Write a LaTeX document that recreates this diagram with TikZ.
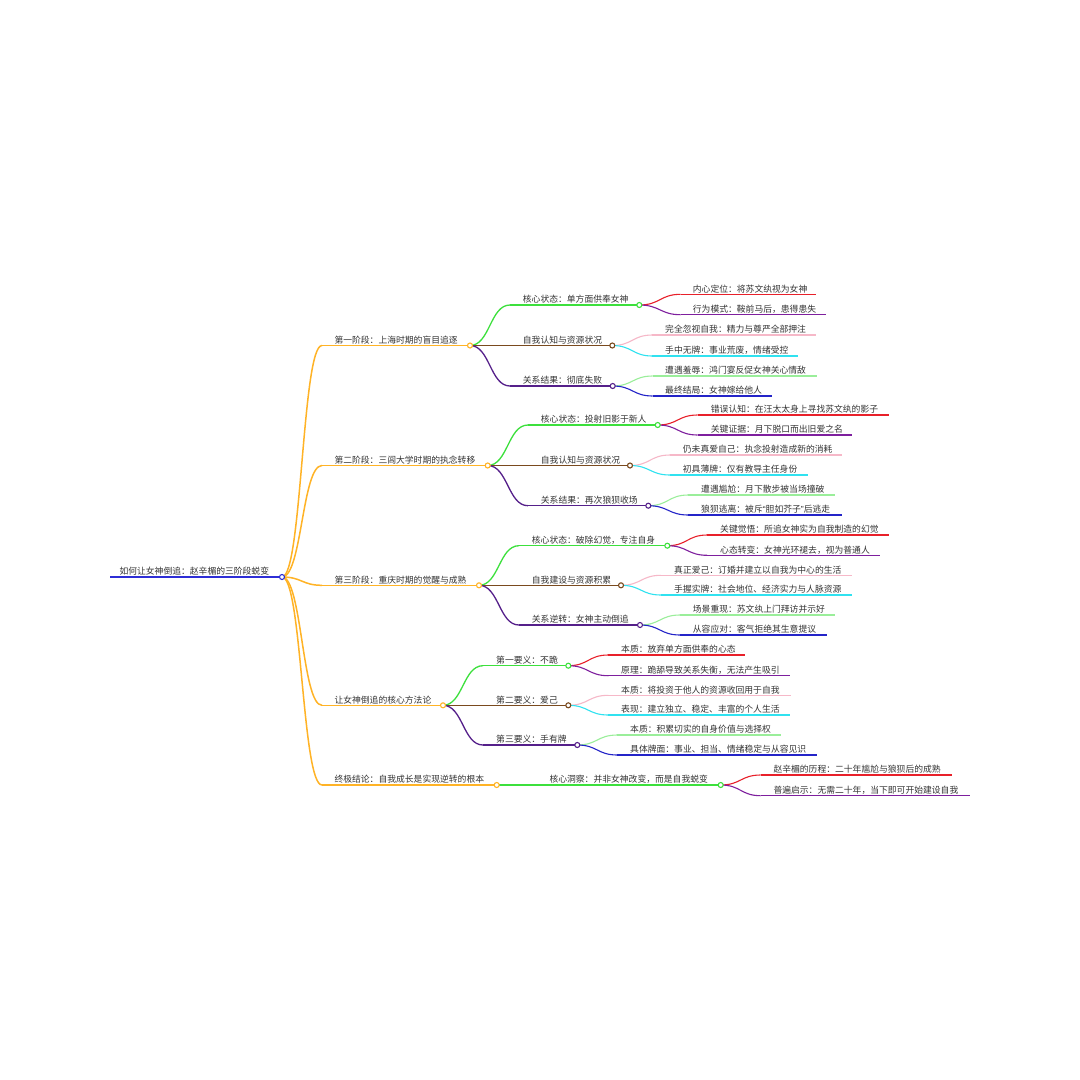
\documentclass[tikz,border=0pt]{standalone}
\usepackage{fontspec}
\setmainfont{Noto Sans CJK SC}
\newfontfamily\latinq{Liberation Sans}
\usetikzlibrary{calc}
\definecolor{cBlue}{HTML}{2E2ED6}
\definecolor{cOrange}{HTML}{FFB326}
\definecolor{cGreen}{HTML}{3CE03C}
\definecolor{cBrown}{HTML}{7A4A1E}
\definecolor{cIndigo}{HTML}{55208A}
\definecolor{cRed}{HTML}{E8202A}
\definecolor{cPurple}{HTML}{7E1F9E}
\definecolor{cPink}{HTML}{F6B8C8}
\definecolor{cCyan}{HTML}{30E2F0}
\definecolor{cLGreen}{HTML}{9AEE9A}
\definecolor{cDBlue}{HTML}{2424C8}
\definecolor{cText}{HTML}{333333}
\tikzset{
  lbl/.style={anchor=base west, inner sep=0pt, text=cText, font=\fontsize{8.8}{10}\selectfont},
  lA/.style={line width=1.5pt},
  lB/.style={line width=1.3pt},
  lC/.style={line width=1.1pt},
  dotst/.style={line width=1.1pt, fill=white},
}
% id, style, xs, xt, xe, y, text
\newcommand\mmnode[7]{%
  \coordinate (#1-s) at (#3,#6);
  \coordinate (#1-e) at (#5,#6);
  \draw[#2] (#1-s) -- (#1-e);
  \node[lbl] (#1) at (#4,#6-2.2) {#7};
}
% parent, child, style
\newcommand\mmlink[3]{%
  \path ($(#1-e)!.5!(#2-s)$) coordinate (#1-#2-m);
  \draw[#3] (#1-e) .. controls (#1-#2-m |- #1-e) and (#1-#2-m |- #2-s) .. (#2-s);
}
\newcommand\mmdot[2]{\draw[#2, dotst] (#1-e) circle[radius=2.5pt];}
\begin{document}
\begin{tikzpicture}[x=1pt,y=-1pt]
\useasboundingbox[fill=white] (0,0) rectangle (1080,1080);
% root
\mmnode{r}{cBlue,lA}{110}{119.3}{282}{577}{如何让女神倒追：赵辛楣的三阶段蜕变}
% level 1
\mmnode{a}{cOrange,lA}{322}{334.3}{470}{345.5}{第一阶段：上海时期的盲目追逐}
\mmnode{b}{cOrange,lA}{322}{334.3}{487.7}{465.5}{第二阶段：三闾大学时期的执念转移}
\mmnode{c}{cOrange,lA}{322}{334.3}{479}{585.3}{第三阶段：重庆时期的觉醒与成熟}
\mmnode{d}{cOrange,lA}{322}{334.3}{443}{705.3}{让女神倒追的核心方法论}
\mmnode{e}{cOrange,lA}{322}{334.3}{496.7}{785}{终极结论：自我成长是实现逆转的根本}
\foreach \k in {a,b,c,d,e}{\mmlink{r}{\k}{cOrange,lA}}
% level 2
\mmnode{a1}{cGreen,lB}{510}{522.7}{639.3}{305}{核心状态：单方面供奉女神}
\mmnode{a2}{cBrown,lB}{510}{522.7}{612.3}{345.5}{自我认知与资源状况}
\mmnode{a3}{cIndigo,lB}{510}{522.7}{612.7}{386}{关系结果：彻底失败}
\mmnode{b1}{cGreen,lB}{528}{540.7}{657.7}{425}{核心状态：投射旧影于新人}
\mmnode{b2}{cBrown,lB}{528}{540.7}{630}{465.5}{自我认知与资源状况}
\mmnode{b3}{cIndigo,lB}{528}{540.7}{648.3}{505.7}{关系结果：再次狼狈收场}
\mmnode{c1}{cGreen,lB}{519}{531.7}{667.3}{545.7}{核心状态：破除幻觉，专注自身}
\mmnode{c2}{cBrown,lB}{519}{531.7}{621}{585.3}{自我建设与资源积累}
\mmnode{c3}{cIndigo,lB}{519}{531.7}{640}{625}{关系逆转：女神主动倒追}
\mmnode{d1}{cGreen,lB}{483}{496}{568.3}{665.7}{第一要义：不跪}
\mmnode{d2}{cBrown,lB}{483}{496}{568.3}{705.3}{第二要义：爱己}
\mmnode{d3}{cIndigo,lB}{483}{496}{577.3}{745}{第三要义：手有牌}
\mmnode{e1}{cGreen,lB}{537}{549.3}{720.7}{785}{核心洞察：并非女神改变，而是自我蜕变}
\foreach \p in {a,b,c,d}{%
  \mmlink{\p}{\p1}{cGreen,lB}
  \mmlink{\p}{\p2}{cBrown,lB}
  \mmlink{\p}{\p3}{cIndigo,lB}}
\mmlink{e}{e1}{cGreen,lB}
% level 3
\mmnode{a11}{cRed,lC}{680.7}{692.7}{815.7}{294.3}{内心定位：将苏文纨视为女神}
\mmnode{a12}{cPurple,lC}{680.7}{692.7}{825.7}{314.7}{行为模式：鞍前马后，患得患失}
\mmnode{a21}{cPink,lC}{652.3}{665}{815.7}{335}{完全忽视自我：精力与尊严全部押注}
\mmnode{a22}{cCyan,lC}{652.3}{665}{798.3}{356}{手中无牌：事业荒废，情绪受控}
\mmnode{a31}{cLGreen,lC}{652.7}{665}{817}{376}{遭遇羞辱：鸿门宴反促女神关心情敌}
\mmnode{a32}{cDBlue,lC}{652.7}{665}{772}{396}{最终结局：女神嫁给他人}
\mmnode{b11}{cRed,lC}{697.7}{710.7}{888.7}{415}{错误认知：在汪太太身上寻找苏文纨的影子}
\mmnode{b12}{cPurple,lC}{697.7}{710.7}{851.7}{435}{关键证据：月下脱口而出旧爱之名}
\mmnode{b21}{cPink,lC}{670}{682.7}{842.3}{455}{仍未真爱自己：执念投射造成新的消耗}
\mmnode{b22}{cCyan,lC}{670}{682.7}{807.7}{475}{初具薄牌：仅有教导主任身份}
\mmnode{b31}{cLGreen,lC}{688.3}{701}{835}{495}{遭遇尴尬：月下散步被当场撞破}
\mmnode{b32}{cDBlue,lC}{688.3}{701}{841.7}{515}{狼狈逃离：被斥{\latinq “}胆如芥子{\latinq ”}后逃走}
\mmnode{c11}{cRed,lC}{707.3}{720}{888.7}{535}{关键觉悟：所追女神实为自我制造的幻觉}
\mmnode{c12}{cPurple,lC}{707.3}{720}{880}{555.3}{心态转变：女神光环褪去，视为普通人}
\mmnode{c21}{cPink,lC}{661}{674}{851.7}{575.3}{真正爱己：订婚并建立以自我为中心的生活}
\mmnode{c22}{cCyan,lC}{661}{674}{851.7}{595}{手握实牌：社会地位、经济实力与人脉资源}
\mmnode{c31}{cLGreen,lC}{680}{692.7}{835}{615}{场景重现：苏文纨上门拜访并示好}
\mmnode{c32}{cDBlue,lC}{680}{692.7}{826.7}{635}{从容应对：客气拒绝其生意提议}
\mmnode{d11}{cRed,lC}{608.3}{621}{745.3}{655}{本质：放弃单方面供奉的心态}
\mmnode{d12}{cPurple,lC}{608.3}{621}{790}{675.7}{原理：跪舔导致关系失衡，无法产生吸引}
\mmnode{d21}{cPink,lC}{608.3}{621}{790.7}{695.3}{本质：将投资于他人的资源收回用于自我}
\mmnode{d22}{cCyan,lC}{608.3}{621}{790}{715}{表现：建立独立、稳定、丰富的个人生活}
\mmnode{d31}{cLGreen,lC}{617.3}{630}{781.3}{735}{本质：积累切实的自身价值与选择权}
\mmnode{d32}{cDBlue,lC}{617.3}{630}{817}{755}{具体牌面：事业、担当、情绪稳定与从容见识}
\mmnode{e11}{cRed,lC}{760.7}{773.3}{952.3}{775}{赵辛楣的历程：二十年尴尬与狼狈后的成熟}
\mmnode{e12}{cPurple,lC}{760.7}{773.3}{970}{795.7}{普遍启示：无需二十年，当下即可开始建设自我}
\foreach \p in {a1,b1,c1,d1,e1}{%
  \mmlink{\p}{\p1}{cRed,lC}
  \mmlink{\p}{\p2}{cPurple,lC}}
\foreach \p in {a2,b2,c2,d2}{%
  \mmlink{\p}{\p1}{cPink,lC}
  \mmlink{\p}{\p2}{cCyan,lC}}
\foreach \p in {a3,b3,c3,d3}{%
  \mmlink{\p}{\p1}{cLGreen,lC}
  \mmlink{\p}{\p2}{cDBlue,lC}}
% dots
\mmdot{r}{cBlue}
\foreach \k in {a,b,c,d,e}{\mmdot{\k}{cOrange}}
\foreach \k in {a1,b1,c1,d1,e1}{\mmdot{\k}{cGreen}}
\foreach \k in {a2,b2,c2,d2}{\mmdot{\k}{cBrown}}
\foreach \k in {a3,b3,c3,d3}{\mmdot{\k}{cIndigo}}
\end{tikzpicture}
\end{document}
